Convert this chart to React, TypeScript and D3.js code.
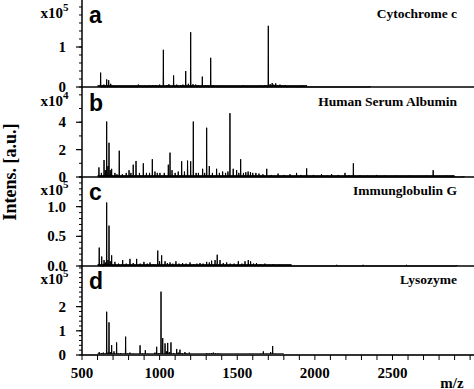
import React from "react";
import * as d3 from "d3";

const W = 474;
const H = 389;

// x axis
const mzDomain = [500, 3025];
const xTickLabels = [500, 1000, 1500, 2000, 2500];
const xMinorTicks = [500, 600, 700, 800, 900, 1000, 1100, 1200, 1300, 1400, 1500, 1600, 1700, 1800, 1900, 2000, 2100, 2200, 2300, 2400, 2500, 2600, 2700, 2800, 2900, 3000];

// Panel a: Cytochrome c (x10^5)
const cytoMz = [620, 641, 659, 672, 685, 700, 735, 863, 880, 905, 930, 955, 975, 1000, 1024, 1045, 1060, 1090, 1110, 1135, 1150, 1168, 1185, 1200, 1215, 1232, 1250, 1275, 1295, 1310, 1329, 1345, 1362, 1400, 1440, 1490, 1539, 1600, 1650, 1680, 1700, 1712, 1725, 1735, 1748, 1760, 1775, 1790, 1808, 1840, 1870, 1923, 2000, 2355];
const cytoInt = [0.36, 0.06, 0.19, 0.17, 0.08, 0.03, 0.02, 0.06, 0.03, 0.03, 0.04, 0.05, 0.04, 0.06, 0.93, 0.05, 0.07, 0.29, 0.06, 0.05, 0.06, 0.4, 0.08, 1.37, 0.07, 0.06, 0.04, 0.26, 0.05, 0.04, 0.73, 0.04, 0.03, 0.02, 0.02, 0.02, 0.04, 0.02, 0.03, 0.04, 1.53, 0.07, 0.1, 0.06, 0.09, 0.05, 0.06, 0.04, 0.05, 0.02, 0.02, 0.03, 0.01, 0.02];

// Panel b: Human Serum Albumin (x10^4)
const hsaMz = [609, 625, 642, 650, 659, 667, 674, 682, 691, 712, 725, 740, 760, 785, 803, 815, 830, 848, 870, 895, 915, 935, 953, 970, 985, 1002, 1030, 1056, 1067, 1080, 1100, 1120, 1142, 1160, 1180, 1200, 1217, 1235, 1250, 1277, 1290, 1303, 1320, 1340, 1367, 1385, 1406, 1425, 1440, 1453, 1474, 1496, 1510, 1522, 1540, 1555, 1570, 1585, 1600, 1620, 1640, 1665, 1690, 1720, 1763, 1800, 1840, 1882, 1910, 1947, 1990, 2043, 2080, 2108, 2150, 2194, 2220, 2248, 2290, 2340, 2398, 2450, 2520, 2570, 2612, 2680, 2720, 2762, 2800, 2848, 2900, 2960];
const hsaInt = [0.7, 0.3, 1.24, 0.5, 4.05, 0.8, 2.5, 0.5, 0.6, 0.3, 0.2, 1.92, 0.2, 0.3, 0.5, 0.3, 0.9, 1.17, 0.3, 1.0, 0.3, 0.3, 1.3, 0.4, 0.3, 0.3, 0.3, 0.9, 1.78, 0.5, 0.3, 0.4, 1.15, 0.4, 1.2, 1.15, 4.05, 0.3, 0.3, 0.6, 0.3, 3.6, 0.8, 0.3, 0.6, 0.3, 0.4, 0.3, 0.4, 4.66, 0.6, 0.5, 0.3, 1.3, 0.3, 0.35, 0.4, 0.35, 0.3, 0.3, 0.25, 0.2, 0.6, 0.15, 0.25, 0.15, 0.2, 0.3, 0.15, 0.63, 0.15, 0.2, 0.1, 0.2, 0.15, 0.3, 0.12, 1.0, 0.12, 0.1, 0.15, 0.1, 0.1, 0.08, 0.1, 0.08, 0.1, 0.5, 0.08, 0.1, 0.06, 0.06];

// Panel c: Immunglobulin G (x10^5)
const iggMz = [611, 627, 642, 650, 659, 667, 674, 682, 691, 712, 735, 762, 785, 809, 830, 852, 875, 899, 920, 938, 960, 988, 1000, 1013, 1035, 1050, 1067, 1085, 1105, 1125, 1148, 1170, 1196, 1220, 1240, 1260, 1280, 1303, 1320, 1335, 1357, 1371, 1389, 1410, 1432, 1455, 1480, 1507, 1530, 1550, 1571, 1586, 1605, 1624, 1650, 1678, 1705, 1732, 1775, 1820, 2140, 2311, 2590, 2913];
const iggInt = [0.31, 0.16, 0.1, 0.06, 1.07, 0.1, 0.68, 0.08, 0.18, 0.07, 0.04, 0.1, 0.04, 0.12, 0.05, 0.12, 0.04, 0.07, 0.04, 0.06, 0.03, 0.26, 0.08, 0.18, 0.08, 0.05, 0.06, 0.04, 0.08, 0.04, 0.05, 0.04, 0.06, 0.03, 0.04, 0.05, 0.04, 0.07, 0.06, 0.09, 0.1, 0.19, 0.1, 0.05, 0.06, 0.04, 0.04, 0.08, 0.04, 0.08, 0.1, 0.08, 0.04, 0.05, 0.03, 0.04, 0.02, 0.03, 0.02, 0.01, 0.02, 0.02, 0.02, 0.015];

// Panel d: Lysozyme (x10^5)
const lysoMz = [611, 625, 637, 650, 659, 667, 674, 682, 691, 706, 723, 735, 749, 765, 781, 795, 809, 830, 850, 874, 890, 908, 925, 950, 970, 981, 995, 1009, 1020, 1035, 1044, 1052, 1062, 1073, 1090, 1110, 1120, 1131, 1145, 1163, 1175, 1191, 1210, 1240, 1270, 1303, 1320, 1334, 1346, 1360, 1375, 1389, 1420, 1460, 1500, 1540, 1582, 1620, 1650, 1668, 1690, 1715, 1728, 1745, 1780];
const lysoInt = [0.12, 0.08, 0.1, 0.06, 1.79, 0.1, 1.35, 0.12, 0.41, 0.15, 0.52, 0.06, 0.08, 0.05, 0.76, 0.06, 0.1, 0.05, 0.04, 0.4, 0.06, 0.2, 0.05, 0.04, 0.1, 0.34, 0.08, 2.62, 0.7, 0.48, 0.15, 0.5, 0.12, 0.52, 0.08, 0.25, 0.1, 0.22, 0.08, 0.12, 0.06, 0.1, 0.04, 0.03, 0.04, 0.08, 0.06, 0.08, 0.1, 0.07, 0.06, 0.05, 0.03, 0.03, 0.03, 0.04, 0.05, 0.04, 0.05, 0.15, 0.05, 0.12, 0.37, 0.05, 0.03];

// noise-floor m/z extent for each spectrum
const noiseStart = [600, 600, 600, 600];
const noiseEnd = [1950, 2900, 1850, 1800];

const panelNames = ["Cytochrome c", "Human Serum Albumin", "Immunglobulin G", "Lysozyme"];
const panelLetters = ["a", "b", "c", "d"];
const panelExponents = ["5", "4", "5", "5"];
const panelYMax = [2.175, 6.5, 1.5, 3.68];
const panelYLabels = [[0, 1], [0, 2, 4], [0, 0.5, 1.0], [0, 1, 2]];
const panelYLabelFormat = ["d", "d", ".1f", "d"];
const panelMinorStep = [0.2, 1, 0.1, 0.2];
const panelMinorMax = [2.0, 6, 1.5, 3.6];

const panelMz = [cytoMz, hsaMz, iggMz, lysoMz];
const panelInt = [cytoInt, hsaInt, iggInt, lysoInt];

// layout
const plotLeft = 82;
const plotRight = 474;
const panelTops = [0, 88, 177, 266];
const panelBases = [87, 177, 266, 355];

const serif = "'Liberation Serif', 'Times New Roman', serif";
const sans = "'Liberation Sans', Arial, sans-serif";

export default function App() {
  const x = d3.scaleLinear().domain(mzDomain).range([plotLeft, plotRight]);

  return (
    <svg width={W} height={H} style={{ display: "block", position: "absolute", left: 0, top: 0, background: "#fff" }}>
      <rect x={0} y={0} width={W} height={H} fill="#fff" />
      {panelNames.map((name, i) => {
        const top = panelTops[i];
        const base = panelBases[i];
        const y = d3.scaleLinear().domain([0, panelYMax[i]]).range([base, top]);
        const mz = panelMz[i];
        const ints = panelInt[i];
        const pts: [number, number][] = [];
        mz.forEach((m, k) => {
          pts.push([m - 1.6, 0]);
          pts.push([m, ints[k]]);
          pts.push([m + 1.6, 0]);
        });
        const line = d3
          .line<[number, number]>()
          .x((d) => x(d[0]))
          .y((d) => y(d[1]));
        const minor = d3.range(0, panelMinorMax[i] + 1e-9, panelMinorStep[i]);
        const fmt = d3.format(panelYLabelFormat[i]);
        return (
          <g key={name}>
            <rect
              x={x(noiseStart[i])}
              y={base - 2}
              width={x(noiseEnd[i]) - x(noiseStart[i])}
              height={2}
              fill={i === 3 ? "#555" : "#222"}
            />
            <path d={line(pts) || ""} fill="none" stroke="#000" strokeWidth={1} strokeLinejoin="miter" />
            <line x1={plotLeft} x2={plotRight} y1={base} y2={base} stroke={i === 3 ? "#333" : "#000"} strokeWidth={i === 3 ? 2 : 1.6} />
            {minor.map((v) => (
              <line key={"m" + v} x1={plotLeft - 3} x2={plotLeft} y1={y(v)} y2={y(v)} stroke="#000" strokeWidth={1} />
            ))}
            {panelYLabels[i].map((v) => (
              <g key={"l" + v}>
                <line x1={plotLeft - 6} x2={plotLeft} y1={y(v)} y2={y(v)} stroke="#000" strokeWidth={1.2} />
                <text x={66} y={y(v) + 5} textAnchor="end" fontFamily={serif} fontWeight="bold" fontSize={15}>
                  {fmt(v)}
                </text>
              </g>
            ))}
            <text x={63} y={top + 18} textAnchor="end" fontFamily={serif} fontWeight="bold" fontSize={15}>
              x10
            </text>
            <text x={63} y={top + 11} fontFamily={serif} fontWeight="bold" fontSize={11}>
              {panelExponents[i]}
            </text>
            <text x={89} y={top + 23} fontFamily={sans} fontWeight="bold" fontSize={23}>
              {panelLetters[i]}
            </text>
            <text x={457} y={top + 18} textAnchor="end" fontFamily={serif} fontWeight="bold" fontSize={13.5}>
              {name}
            </text>
          </g>
        );
      })}
      <line x1={plotLeft} x2={plotLeft} y1={0} y2={355} stroke="#000" strokeWidth={1.5} />
      {xMinorTicks.map((v) => (
        <line key={"xt" + v} x1={x(v)} x2={x(v)} y1={355} y2={360} stroke="#000" strokeWidth={1} />
      ))}
      {xTickLabels.map((v) => (
        <text key={"xl" + v} x={x(v)} y={378} textAnchor="middle" fontFamily={serif} fontWeight="bold" fontSize={15}>
          {v}
        </text>
      ))}
      <text x={452} y={388} textAnchor="middle" fontFamily={serif} fontWeight="bold" fontSize={15}>
        m/z
      </text>
      <text
        transform="translate(16,172) rotate(-90)"
        textAnchor="middle"
        fontFamily={serif}
        fontWeight="bold"
        fontSize={18}
      >
        Intens. [a.u.]
      </text>
    </svg>
  );
}
